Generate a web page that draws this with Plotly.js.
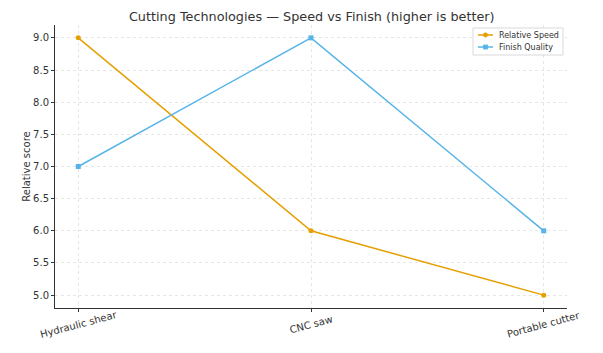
<!DOCTYPE html>
<html><head><meta charset="utf-8">
<script src="https://cdn.plot.ly/plotly-3.0.1.min.js"></script>
<style>html,body{margin:0;padding:0;background:#fff}</style>
</head><body><div id="chart" style="width:603px;height:353px"></div>
<script>
const categories = ["Hydraulic shear", "CNC saw", "Portable cutter"];
const relativeSpeed = [9, 6, 5];
const finishQuality = [7, 9, 6];
const yTicks = [5.0, 5.5, 6.0, 6.5, 7.0, 7.5, 8.0, 8.5, 9.0];
const seriesNames = ["Relative Speed", "Finish Quality"];
const seriesColors = ["#E69F00", "#56B4E9"];

const font = "DejaVu Sans, sans-serif";
const traces = [
  {x: categories, y: relativeSpeed, name: seriesNames[0], type: "scatter", mode: "lines+markers",
   line: {color: seriesColors[0], width: 1.5}, marker: {symbol: "circle", size: 5, color: seriesColors[0]}},
  {x: categories, y: finishQuality, name: seriesNames[1], type: "scatter", mode: "lines+markers",
   line: {color: seriesColors[1], width: 1.5}, marker: {symbol: "square", size: 5, color: seriesColors[1]}}
];

// category tick labels, centered under each tick and rotated
const annotations = categories.map(c => ({
  x: c, xref: "x", y: -0.058, yref: "paper", text: c, showarrow: false, textangle: -15,
  xanchor: "center", yanchor: "middle", font: {family: font, size: 10, color: "#333"}
}));

// compact legend drawn in paper coordinates
const PW = 512, PH = 283;
const px = v => (v - 55) / PW;      // pixel -> paper x
const py = v => (308 - v) / PH;     // pixel -> paper y
const shapes = [{type: "rect", xref: "paper", yref: "paper", x0: px(473), x1: px(563), y0: py(55), y1: py(28),
  line: {color: "#d9d9d9", width: 1}, fillcolor: "rgba(255,255,255,0.85)", layer: "above"}];
const legendRows = [35, 47];
seriesNames.forEach((n, i) => {
  const yy = legendRows[i];
  shapes.push({type: "line", xref: "paper", yref: "paper", x0: px(478), x1: px(493), y0: py(yy), y1: py(yy),
    line: {color: seriesColors[i], width: 1.5}, layer: "above"});
  const r = 2.4;
  shapes.push({type: i === 0 ? "circle" : "rect", xref: "paper", yref: "paper",
    x0: px(485.5 - r), x1: px(485.5 + r), y0: py(yy + r), y1: py(yy - r),
    line: {color: seriesColors[i], width: 0}, fillcolor: seriesColors[i], layer: "above"});
  annotations.push({x: px(497), xref: "paper", y: py(yy), yref: "paper", text: n, showarrow: false,
    xanchor: "left", yanchor: "middle", font: {family: font, size: 8, color: "#333"}});
});

const layout = {
  width: 603, height: 353,
  margin: {l: 55, r: 36, t: 25, b: 45},
  paper_bgcolor: "#fff", plot_bgcolor: "#fff",
  font: {family: font, color: "#333", size: 10},
  title: {text: "Cutting Technologies — Speed vs Finish (higher is better)", x: 0.517, xanchor: "center", y: 0.967, yanchor: "top",
          font: {family: font, size: 12.8, color: "#333"}},
  showlegend: false,
  annotations: annotations,
  shapes: shapes,
  xaxis: {type: "category", range: [-0.1, 2.1], showticklabels: false, showgrid: true, gridcolor: "#e6e6e6", griddash: "dot",
          showline: true, linecolor: "#333", linewidth: 1, ticks: "outside", ticklen: 3, tickcolor: "#333", zeroline: false},
  yaxis: {range: [4.8, 9.2], tickvals: yTicks, ticktext: yTicks.map(v => v.toFixed(1)), showgrid: true, gridcolor: "#e6e6e6", griddash: "dot",
          showline: true, linecolor: "#333", linewidth: 1, ticks: "outside", ticklen: 3, tickcolor: "#333",
          tickfont: {family: font, size: 10, color: "#333"}, zeroline: false,
          title: {text: "Relative score", font: {family: font, size: 10, color: "#333"}, standoff: 0}}
};
Plotly.newPlot("chart", traces, layout, {displayModeBar: false, staticPlot: true});
</script></body></html>
